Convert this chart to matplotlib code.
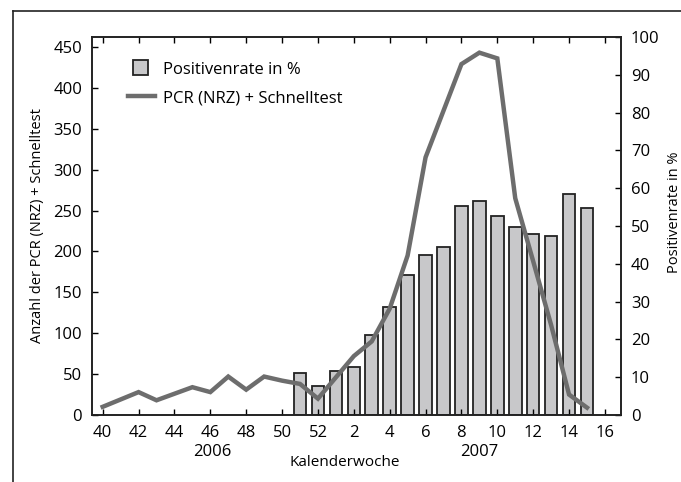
import matplotlib
matplotlib.use("Agg")
import matplotlib.pyplot as plt
from matplotlib.lines import Line2D
from matplotlib.patches import Rectangle
from matplotlib.legend_handler import HandlerPatch

plt.rcParams['font.family'] = ['Open Sans', 'DejaVu Sans']
plt.rcParams['font.size'] = 12

# Data
weeks = [40, 41, 42, 43, 44, 45, 46, 47, 48, 49, 50, 51, 52,
         1, 2, 3, 4, 5, 6, 7, 8, 9, 10, 11, 12, 13, 14, 15, 16]
# PCR (NRZ) + Schnelltest, weeks 40/2006 .. 15/2007
counts = [10, 19, 28, 18, 26, 34, 28, 47, 31, 47, 42, 38, 20,
          46, 72, 90, 130, 195, 315, 372, 429, 443, 436, 265, 188, 110, 25, 9]
# Positivenrate in %, weeks 51/2006 .. 15/2007
rate_start = 11
rates = [11.2, 7.8, 11.6, 12.6, 21.1, 28.7, 37.0, 42.4, 44.4,
         55.3, 56.7, 52.7, 49.8, 48.0, 47.3, 58.5, 54.7]

bar_fill = '#c8c8ca'
edge = '#222222'
line_col = '#6d6d6d'

pos_line = list(range(len(counts)))
pos_bars = [rate_start + i for i in range(len(rates))]

fig = plt.figure(figsize=(6.81, 4.82), dpi=100)
ax = fig.add_axes([0.135, 0.139, 0.777, 0.784])
ax2 = ax.twinx()

ax2.bar(pos_bars, rates, width=0.7, color=bar_fill, edgecolor=edge, linewidth=1.3)
line, = ax.plot(pos_line, counts, color=line_col, linewidth=3.2,
                solid_joinstyle='miter')

# line above bars
ax.set_zorder(ax2.get_zorder() + 1)
ax.patch.set_visible(False)

ax.set_xlim(-0.6, 28.9)
ax.set_ylim(0, 462)
ax2.set_ylim(0, 100)

tick_pos = list(range(0, 29, 2))
ax.set_xticks(tick_pos)
ax.set_xticklabels([str(weeks[p]) for p in tick_pos])
ax.set_yticks(range(0, 451, 50))
ax2.set_yticks(range(0, 101, 10))

ax.tick_params(axis='x', direction='in', length=4, width=1, top=True, pad=7)
ax.tick_params(axis='y', direction='in', length=4, width=1, pad=7)
ax2.tick_params(axis='y', direction='in', length=4, width=1, pad=7)

for a in (ax, ax2):
    for s in a.spines.values():
        s.set_linewidth(1.2)
        s.set_color(edge)

ax.set_ylabel('Anzahl der PCR (NRZ) + Schnelltest', fontsize=10.5, labelpad=6)
fig.text(674 / 681, 1 - 212 / 482, 'Positivenrate in %', fontsize=10.5,
         rotation=90, ha='center', va='center')

trans = ax.get_xaxis_transform()
ax.text(6.1, -0.097, '2006', transform=trans, ha='center', va='center')
ax.text(21, -0.097, '2007', transform=trans, ha='center', va='center')
ax.text(0.478, -0.126, 'Kalenderwoche', transform=ax.transAxes,
        ha='center', va='center', fontsize=11)


def square_patch(legend, orig_handle, xdescent, ydescent, width, height, fontsize):
    s = height * 1.3
    return Rectangle((xdescent + width - s - 5, ydescent + (height - s) / 2), s, s)


bar_handle = Rectangle((0, 0), 1, 1, facecolor=bar_fill, edgecolor=edge, linewidth=1.3)
ax.legend([bar_handle, line], ['Positivenrate in %', 'PCR (NRZ) + Schnelltest'],
          loc='upper left', bbox_to_anchor=(0.04, 0.975), frameon=False,
          fontsize=12, handlelength=1.6, handletextpad=0.5, labelspacing=0.75,
          handler_map={Rectangle: HandlerPatch(patch_func=square_patch)})

# outer frame (top and left only, like the source)
fig.add_artist(Line2D([13 / 681, 13 / 681], [0, 1 - 11 / 482],
                      color=edge, linewidth=1.2))
fig.add_artist(Line2D([13 / 681, 1], [1 - 11 / 482, 1 - 11 / 482],
                      color=edge, linewidth=1.2))

fig.savefig('out.png', dpi=100)
